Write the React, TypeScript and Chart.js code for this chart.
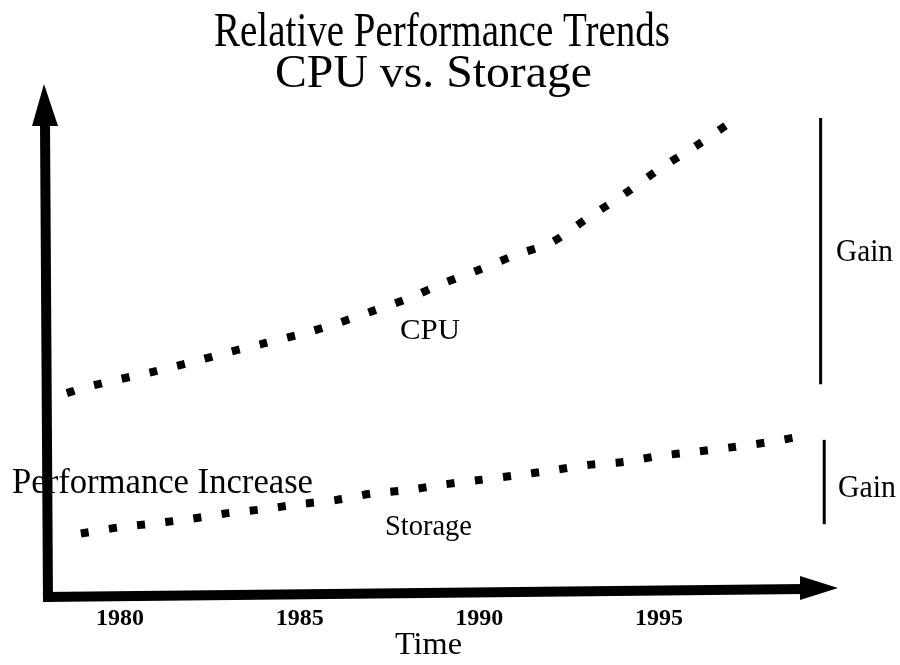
import React, { useEffect, useRef } from "react";
import { Chart, registerables } from "chart.js";

Chart.register(...registerables);

// ---- data ----
const TITLE_LINE_1 = "Relative Performance Trends";
const TITLE_LINE_2 = "CPU vs. Storage";
const X_LABEL = "Time";
const Y_LABEL = "Performance Increase";
const CPU_LABEL = "CPU";
const STORAGE_LABEL = "Storage";
const GAIN_LABEL = "Gain";

const TICK_YEARS = [1980, 1985, 1990, 1995];

const CPU_YEARS = [1978.52, 1979, 1980, 1981, 1982, 1983, 1984, 1985, 1986, 1987, 1988, 1989, 1990, 1991, 1992, 1993, 1994, 1995, 1996, 1996.9];
const CPU_VALUES = [40.8, 41.9, 43.6, 45.2, 47.0, 48.9, 50.7, 52.5, 54.6, 57.1, 59.6, 62.7, 65.4, 68.3, 70.8, 75.6, 80.3, 85.4, 89.9, 94.3];

const STORAGE_YEARS = [1978.91, 1980, 1981, 1982, 1983, 1984, 1985, 1986, 1987, 1988, 1989, 1990, 1991, 1992, 1993, 1994, 1995, 1996, 1997, 1998, 1998.8];
const STORAGE_VALUES = [12.85, 14.1, 14.9, 15.8, 16.9, 17.7, 18.7, 19.5, 20.8, 21.5, 22.6, 23.5, 24.4, 25.4, 26.5, 27.1, 28.3, 29.1, 30.0, 31.0, 32.0];

const CPU_GAIN_YEAR = 1999.5;
const CPU_GAIN_RANGE = [42.6, 95.6];
const STORAGE_GAIN_YEAR = 1999.6;
const STORAGE_GAIN_RANGE = [14.7, 31.5];

const X_MIN = 1977.94;
const X_MAX = 1999.9;
const Y_MIN = 0;
const Y_MAX = 100;

const FONT = '"Liberation Serif", "Times New Roman", serif';

function fitText(ctx: CanvasRenderingContext2D, text: string, left: number, right: number, baseline: number, capH: number) {
  const size = capH / 0.66;
  ctx.font = `${size}px ${FONT}`;
  const w = ctx.measureText(text).width;
  ctx.save();
  ctx.translate(left, baseline);
  ctx.scale((right - left) / w, 1);
  ctx.textAlign = "left";
  ctx.textBaseline = "alphabetic";
  ctx.fillStyle = "#000";
  ctx.fillText(text, 0, 0);
  ctx.restore();
}

const decorPlugin = {
  id: "decor",
  afterDraw(chart: any) {
    const ctx: CanvasRenderingContext2D = chart.ctx;
    const area = chart.chartArea;
    ctx.save();
    // texts
    fitText(ctx, TITLE_LINE_1, 214, 670, 46, 32);
    fitText(ctx, TITLE_LINE_2, 275, 592, 87, 31);
    fitText(ctx, Y_LABEL, 12, 313, 493, 23);
    fitText(ctx, CPU_LABEL, 400, 460, 339, 20);
    fitText(ctx, STORAGE_LABEL, 385, 472, 535, 20);
    fitText(ctx, X_LABEL, 395, 462, 654, 21);
    fitText(ctx, GAIN_LABEL, 836, 893, 261, 21);
    fitText(ctx, GAIN_LABEL, 838, 896, 497, 21);

    // axes with arrows
    const left = area.left;
    const bottom = area.bottom;
    ctx.fillStyle = "#000";
    ctx.strokeStyle = "#000";
    ctx.lineWidth = 10;
    ctx.lineCap = "butt";
    // y axis
    ctx.beginPath();
    ctx.moveTo(left + 2, bottom + 4);
    ctx.lineTo(left - 1, 122);
    ctx.stroke();
    ctx.beginPath();
    ctx.moveTo(left - 14, 126);
    ctx.lineTo(left + 12, 126);
    ctx.lineTo(left - 2, 84);
    ctx.closePath();
    ctx.fill();
    // x axis
    ctx.beginPath();
    ctx.moveTo(left - 3, bottom - 1);
    ctx.lineTo(805, 589);
    ctx.stroke();
    ctx.beginPath();
    ctx.moveTo(800, 576);
    ctx.lineTo(800, 600);
    ctx.lineTo(838, 588);
    ctx.closePath();
    ctx.fill();
    ctx.restore();
  },
};

export default function App() {
  const ref = useRef<HTMLCanvasElement | null>(null);
  useEffect(() => {
    if (!ref.current) return;
    const dotted = {
      borderColor: "#000",
      borderWidth: 8,
      borderDash: [8, 20.4],
      borderCapStyle: "butt" as const,
      pointRadius: 0,
      tension: 0.3,
      fill: false,
      clip: false as const,
    };
    const solid = {
      borderColor: "#000",
      borderWidth: 3,
      pointRadius: 0,
      fill: false,
      clip: false as const,
    };
    const chart = new Chart(ref.current, {
      type: "line",
      data: {
        datasets: [
          { label: CPU_LABEL, data: CPU_YEARS.map((x, i) => ({ x, y: CPU_VALUES[i] })), ...dotted },
          { label: STORAGE_LABEL, data: STORAGE_YEARS.map((x, i) => ({ x, y: STORAGE_VALUES[i] })), ...dotted },
          { label: GAIN_LABEL + " CPU", data: CPU_GAIN_RANGE.map((y) => ({ x: CPU_GAIN_YEAR, y })), ...solid },
          { label: GAIN_LABEL + " Storage", data: STORAGE_GAIN_RANGE.map((y) => ({ x: STORAGE_GAIN_YEAR, y })), ...solid },
        ],
      },
      options: {
        responsive: false,
        animation: false,
        layout: { padding: { left: 46, right: 65, top: 96, bottom: 0 } },
        plugins: { legend: { display: false }, title: { display: false }, tooltip: { enabled: false } },
        scales: {
          x: {
            type: "linear",
            min: X_MIN,
            max: X_MAX,
            grid: { display: false, drawTicks: false },
            border: { display: false },
            afterBuildTicks: (scale: any) => {
              scale.ticks = TICK_YEARS.map((v) => ({ value: v }));
            },
            afterFit: (scale: any) => {
              scale.height = 67;
            },
            ticks: {
              color: "#000",
              padding: 6,
              autoSkip: false,
              maxRotation: 0,
              font: { family: FONT, size: 24, weight: "bold" },
              callback: (v: any) => String(v),
            },
          },
          y: {
            type: "linear",
            min: Y_MIN,
            max: Y_MAX,
            display: false,
          },
        },
      },
      plugins: [decorPlugin],
    });
    return () => chart.destroy();
  }, []);
  return (
    <div style={{ position: "absolute", left: 0, top: 0, width: 900, height: 665, background: "#fff" }}>
      <canvas ref={ref} width={900} height={665} style={{ display: "block" }} />
    </div>
  );
}
